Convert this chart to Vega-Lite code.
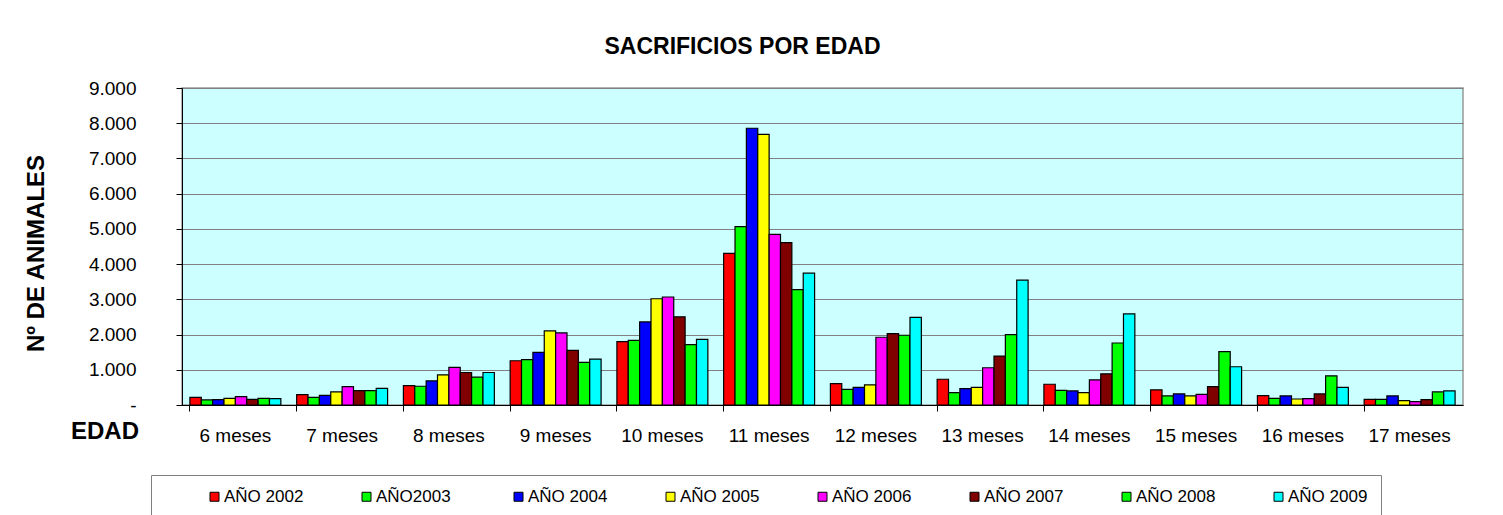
{
  "$schema": "https://vega.github.io/schema/vega-lite/v6.json",
  "autosize": {"type": "none"},
  "width": 1281,
  "height": 317,
  "padding": {"left": 182, "top": 88, "right": 40, "bottom": 110},
  "background": "white",
  "title": {
    "text": "SACRIFICIOS POR EDAD",
    "font": "Liberation Sans",
    "fontSize": 23,
    "fontWeight": "bold",
    "color": "#000000",
    "anchor": "middle",
    "dx": -80,
    "baseline": "alphabetic",
    "offset": 2
  },
  "config": {
    "view": {"fill": "#CCFFFF", "stroke": "#999999", "strokeWidth": 1.5},
    "font": "Liberation Sans",
    "legend": {"strokeWidth": 1}
  },
  "data": {
    "values": [
      {"edad": "6 meses", "anio": "AÑO 2002", "n": 217},
      {"edad": "6 meses", "anio": "AÑO2003", "n": 143},
      {"edad": "6 meses", "anio": "AÑO 2004", "n": 150},
      {"edad": "6 meses", "anio": "AÑO 2005", "n": 190},
      {"edad": "6 meses", "anio": "AÑO 2006", "n": 237},
      {"edad": "6 meses", "anio": "AÑO 2007", "n": 160},
      {"edad": "6 meses", "anio": "AÑO 2008", "n": 190},
      {"edad": "6 meses", "anio": "AÑO 2009", "n": 180},
      {"edad": "7 meses", "anio": "AÑO 2002", "n": 294},
      {"edad": "7 meses", "anio": "AÑO2003", "n": 217},
      {"edad": "7 meses", "anio": "AÑO 2004", "n": 274},
      {"edad": "7 meses", "anio": "AÑO 2005", "n": 371},
      {"edad": "7 meses", "anio": "AÑO 2006", "n": 523},
      {"edad": "7 meses", "anio": "AÑO 2007", "n": 409},
      {"edad": "7 meses", "anio": "AÑO 2008", "n": 409},
      {"edad": "7 meses", "anio": "AÑO 2009", "n": 474},
      {"edad": "8 meses", "anio": "AÑO 2002", "n": 551},
      {"edad": "8 meses", "anio": "AÑO2003", "n": 532},
      {"edad": "8 meses", "anio": "AÑO 2004", "n": 686},
      {"edad": "8 meses", "anio": "AÑO 2005", "n": 857},
      {"edad": "8 meses", "anio": "AÑO 2006", "n": 1066},
      {"edad": "8 meses", "anio": "AÑO 2007", "n": 923},
      {"edad": "8 meses", "anio": "AÑO 2008", "n": 789},
      {"edad": "8 meses", "anio": "AÑO 2009", "n": 923},
      {"edad": "9 meses", "anio": "AÑO 2002", "n": 1257},
      {"edad": "9 meses", "anio": "AÑO2003", "n": 1286},
      {"edad": "9 meses", "anio": "AÑO 2004", "n": 1494},
      {"edad": "9 meses", "anio": "AÑO 2005", "n": 2103},
      {"edad": "9 meses", "anio": "AÑO 2006", "n": 2046},
      {"edad": "9 meses", "anio": "AÑO 2007", "n": 1551},
      {"edad": "9 meses", "anio": "AÑO 2008", "n": 1209},
      {"edad": "9 meses", "anio": "AÑO 2009", "n": 1303},
      {"edad": "10 meses", "anio": "AÑO 2002", "n": 1800},
      {"edad": "10 meses", "anio": "AÑO2003", "n": 1837},
      {"edad": "10 meses", "anio": "AÑO 2004", "n": 2360},
      {"edad": "10 meses", "anio": "AÑO 2005", "n": 3017},
      {"edad": "10 meses", "anio": "AÑO 2006", "n": 3066},
      {"edad": "10 meses", "anio": "AÑO 2007", "n": 2503},
      {"edad": "10 meses", "anio": "AÑO 2008", "n": 1714},
      {"edad": "10 meses", "anio": "AÑO 2009", "n": 1866},
      {"edad": "11 meses", "anio": "AÑO 2002", "n": 4303},
      {"edad": "11 meses", "anio": "AÑO2003", "n": 5066},
      {"edad": "11 meses", "anio": "AÑO 2004", "n": 7857},
      {"edad": "11 meses", "anio": "AÑO 2005", "n": 7686},
      {"edad": "11 meses", "anio": "AÑO 2006", "n": 4846},
      {"edad": "11 meses", "anio": "AÑO 2007", "n": 4609},
      {"edad": "11 meses", "anio": "AÑO 2008", "n": 3274},
      {"edad": "11 meses", "anio": "AÑO 2009", "n": 3743},
      {"edad": "12 meses", "anio": "AÑO 2002", "n": 609},
      {"edad": "12 meses", "anio": "AÑO2003", "n": 446},
      {"edad": "12 meses", "anio": "AÑO 2004", "n": 503},
      {"edad": "12 meses", "anio": "AÑO 2005", "n": 571},
      {"edad": "12 meses", "anio": "AÑO 2006", "n": 1923},
      {"edad": "12 meses", "anio": "AÑO 2007", "n": 2029},
      {"edad": "12 meses", "anio": "AÑO 2008", "n": 1980},
      {"edad": "12 meses", "anio": "AÑO 2009", "n": 2486},
      {"edad": "13 meses", "anio": "AÑO 2002", "n": 731},
      {"edad": "13 meses", "anio": "AÑO2003", "n": 351},
      {"edad": "13 meses", "anio": "AÑO 2004", "n": 466},
      {"edad": "13 meses", "anio": "AÑO 2005", "n": 503},
      {"edad": "13 meses", "anio": "AÑO 2006", "n": 1057},
      {"edad": "13 meses", "anio": "AÑO 2007", "n": 1389},
      {"edad": "13 meses", "anio": "AÑO 2008", "n": 2000},
      {"edad": "13 meses", "anio": "AÑO 2009", "n": 3543},
      {"edad": "14 meses", "anio": "AÑO 2002", "n": 589},
      {"edad": "14 meses", "anio": "AÑO2003", "n": 417},
      {"edad": "14 meses", "anio": "AÑO 2004", "n": 400},
      {"edad": "14 meses", "anio": "AÑO 2005", "n": 351},
      {"edad": "14 meses", "anio": "AÑO 2006", "n": 714},
      {"edad": "14 meses", "anio": "AÑO 2007", "n": 886},
      {"edad": "14 meses", "anio": "AÑO 2008", "n": 1760},
      {"edad": "14 meses", "anio": "AÑO 2009", "n": 2589},
      {"edad": "15 meses", "anio": "AÑO 2002", "n": 429},
      {"edad": "15 meses", "anio": "AÑO2003", "n": 257},
      {"edad": "15 meses", "anio": "AÑO 2004", "n": 314},
      {"edad": "15 meses", "anio": "AÑO 2005", "n": 257},
      {"edad": "15 meses", "anio": "AÑO 2006", "n": 303},
      {"edad": "15 meses", "anio": "AÑO 2007", "n": 523},
      {"edad": "15 meses", "anio": "AÑO 2008", "n": 1514},
      {"edad": "15 meses", "anio": "AÑO 2009", "n": 1086},
      {"edad": "16 meses", "anio": "AÑO 2002", "n": 266},
      {"edad": "16 meses", "anio": "AÑO2003", "n": 189},
      {"edad": "16 meses", "anio": "AÑO 2004", "n": 257},
      {"edad": "16 meses", "anio": "AÑO 2005", "n": 171},
      {"edad": "16 meses", "anio": "AÑO 2006", "n": 180},
      {"edad": "16 meses", "anio": "AÑO 2007", "n": 314},
      {"edad": "16 meses", "anio": "AÑO 2008", "n": 829},
      {"edad": "16 meses", "anio": "AÑO 2009", "n": 503},
      {"edad": "17 meses", "anio": "AÑO 2002", "n": 160},
      {"edad": "17 meses", "anio": "AÑO2003", "n": 160},
      {"edad": "17 meses", "anio": "AÑO 2004", "n": 257},
      {"edad": "17 meses", "anio": "AÑO 2005", "n": 123},
      {"edad": "17 meses", "anio": "AÑO 2006", "n": 94},
      {"edad": "17 meses", "anio": "AÑO 2007", "n": 151},
      {"edad": "17 meses", "anio": "AÑO 2008", "n": 371},
      {"edad": "17 meses", "anio": "AÑO 2009", "n": 400}
    ]
  },
  "mark": {"type": "bar", "stroke": "#000000", "strokeWidth": 1.2},
  "encoding": {
    "x": {
      "field": "edad",
      "type": "nominal",
      "sort": ["6 meses", "7 meses", "8 meses", "9 meses", "10 meses", "11 meses", "12 meses", "13 meses", "14 meses", "15 meses", "16 meses", "17 meses"],
      "scale": {"paddingInner": 0.148, "paddingOuter": 0.074},
      "axis": {
        "title": "EDAD",
        "titleFont": "Liberation Sans",
        "titleFontSize": 24,
        "titleFontWeight": "bold",
        "titleColor": "#000000",
        "titleX": -77.5,
        "titleY": 26,
        "titleAlign": "center",
        "titleBaseline": "middle",
        "labelAngle": 0,
        "labelFont": "Liberation Sans",
        "labelFontSize": 19,
        "labelColor": "#000000",
        "labelPadding": 15,
        "bandPosition": 0,
        "tickColor": "#000000",
        "tickSize": 6,
        "domainColor": "#000000",
        "domainWidth": 1,
        "grid": false
      }
    },
    "xOffset": {
      "field": "anio",
      "type": "nominal",
      "sort": ["AÑO 2002", "AÑO2003", "AÑO 2004", "AÑO 2005", "AÑO 2006", "AÑO 2007", "AÑO 2008", "AÑO 2009"],
      "scale": {"paddingInner": 0, "paddingOuter": 0}
    },
    "y": {
      "field": "n",
      "type": "quantitative",
      "scale": {"domain": [0, 9000], "nice": false},
      "axis": {
        "title": "Nº DE ANIMALES",
        "titleFont": "Liberation Sans",
        "titleFontSize": 24,
        "titleFontWeight": "bold",
        "titleColor": "#000000",
        "titleX": -146,
        "titleY": 165,
        "titleAngle": -90,
        "titleAlign": "center",
        "titleBaseline": "middle",
        "values": [0, 1000, 2000, 3000, 4000, 5000, 6000, 7000, 8000, 9000],
        "labelExpr": "datum.value == 0 ? '-' : replace(format(datum.value, ','), ',', '.')",
        "labelFont": "Liberation Sans",
        "labelFontSize": 19,
        "labelColor": "#000000",
        "labelPadding": 40,
        "tickColor": "#000000",
        "tickSize": 6,
        "domainColor": "#000000",
        "domainWidth": 1,
        "grid": true,
        "gridColor": "#808080",
        "gridWidth": 1.2
      }
    },
    "color": {
      "field": "anio",
      "type": "nominal",
      "sort": ["AÑO 2002", "AÑO2003", "AÑO 2004", "AÑO 2005", "AÑO 2006", "AÑO 2007", "AÑO 2008", "AÑO 2009"],
      "scale": {"range": ["#FF0000", "#00FF00", "#0000FF", "#FFFF00", "#FF00FF", "#800000", "#00FF00", "#00FFFF"]},
      "legend": {
        "orient": "none",
        "legendX": -31,
        "legendY": 387,
        "direction": "horizontal",
        "columns": 8,
        "gridAlign": "all",
        "columnPadding": 54,
        "padding": 13,
        "strokeColor": "#808080",
        "fillColor": "#FFFFFF",
        "title": " ",
        "titleOrient": "left",
        "titleFontSize": 1,
        "titlePadding": 42,
        "symbolType": "square",
        "symbolSize": 81,
        "symbolStrokeColor": "#000000",
        "symbolStrokeWidth": 1,
        "symbolOpacity": 1,
        "labelFont": "Liberation Sans",
        "labelFontSize": 17,
        "labelColor": "#000000",
        "labelOffset": 1
      }
    }
  }
}
